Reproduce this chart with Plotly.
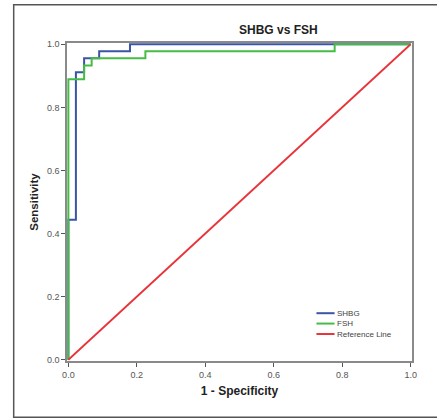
import plotly.graph_objects as go

# ROC curve data (1 - specificity, sensitivity)
shbg_fpr = [0.0, 0.0, 0.022, 0.022, 0.046, 0.046, 0.090, 0.090, 0.180, 0.180, 1.0]
shbg_tpr = [0.0, 0.444, 0.444, 0.911, 0.911, 0.956, 0.956, 0.978, 0.978, 1.0, 1.0]

fsh_fpr = [0.0, 0.0, 0.046, 0.046, 0.068, 0.068, 0.225, 0.225, 0.778, 0.778, 1.0]
fsh_tpr = [0.0, 0.889, 0.889, 0.933, 0.933, 0.956, 0.956, 0.978, 0.978, 1.0, 1.0]

ref_x = [0.0, 1.0]
ref_y = [0.0, 1.0]

tick_vals = [0.0, 0.2, 0.4, 0.6, 0.8, 1.0]
tick_text = ["0.0", "0.2", "0.4", "0.6", "0.8", "1.0"]

series_names = ["SHBG", "FSH", "Reference Line"]
series_colors = ["#3B55A6", "#45BD45", "#E8333A"]

W, H = 437, 419
# plot area in pixels
px0, px1 = 68, 411
py0, py1 = 44, 360
pad = 0.004

fig = go.Figure()
fig.add_trace(go.Scatter(x=shbg_fpr, y=shbg_tpr, mode="lines", name=series_names[0],
                         line=dict(color=series_colors[0], width=2)))
fig.add_trace(go.Scatter(x=fsh_fpr, y=fsh_tpr, mode="lines", name=series_names[1],
                         line=dict(color=series_colors[1], width=2)))
fig.add_trace(go.Scatter(x=ref_x, y=ref_y, mode="lines", name=series_names[2],
                         line=dict(color=series_colors[2], width=1.8)))

sx = (px1 - px0)
sy = (py1 - py0)
l = px0 - pad * sx
r = W - px1 - pad * sx
t = py0 - pad * sy
b = H - py1 - pad * sy

def fx(p):
    return (p - px0) / sx

def fy(p):
    return (py1 - p) / sy

axis_common = dict(
    range=[-pad, 1 + pad], tickvals=tick_vals, ticktext=tick_text, automargin=False,
    showgrid=False, zeroline=False, showline=True, linecolor="#8a8a8a", linewidth=1.5,
    mirror=True, ticks="outside", ticklen=4, tickcolor="#555555", tickwidth=1,
    tickfont=dict(family="Liberation Sans, Arial", size=9, color="#555555"),
)

shapes = [dict(type="rect", xref="paper", yref="paper",
               x0=fx(15), x1=fx(442), y0=fy(416), y1=fy(6),
               line=dict(color="#555555", width=1.5), fillcolor="rgba(0,0,0,0)", layer="below")]
annotations = [dict(text="<b>SHBG vs FSH</b>", xref="paper", yref="paper",
                    x=fx(278.5), y=fy(31), xanchor="center", yanchor="middle",
                    showarrow=False, font=dict(family="Liberation Sans, Arial", size=12, color="#222222"))]

# manual legend (compact, like the reference)
leg_y = [312.5, 322.8, 333.2]
for name, col, yy in zip(series_names, series_colors, leg_y):
    shapes.append(dict(type="line", xref="paper", yref="paper",
                       x0=fx(316), x1=fx(334), y0=fy(yy), y1=fy(yy),
                       line=dict(color=col, width=2)))
    annotations.append(dict(text=name, xref="paper", yref="paper", x=fx(334), y=fy(yy),
                            xanchor="left", yanchor="middle", showarrow=False,
                            font=dict(family="Liberation Sans, Arial", size=8, color="#444444")))

fig.update_layout(
    width=W, height=H,
    margin=dict(l=l, r=r, t=t, b=b, autoexpand=False),
    paper_bgcolor="white", plot_bgcolor="white",
    xaxis=dict(**axis_common,
               title=dict(text="<b>1 - Specificity</b>", standoff=8,
                          font=dict(family="Liberation Sans, Arial", size=12, color="#222222"))),
    yaxis=dict(**axis_common,
               title=dict(text="<b>Sensitivity</b>", standoff=6,
                          font=dict(family="Liberation Sans, Arial", size=11.5, color="#222222"))),
    showlegend=False,
    annotations=annotations,
    shapes=shapes,
)

fig.write_html("out.html", config={"displayModeBar": False},
               post_script="document.body.style.margin='0';document.body.style.overflow='hidden';")
